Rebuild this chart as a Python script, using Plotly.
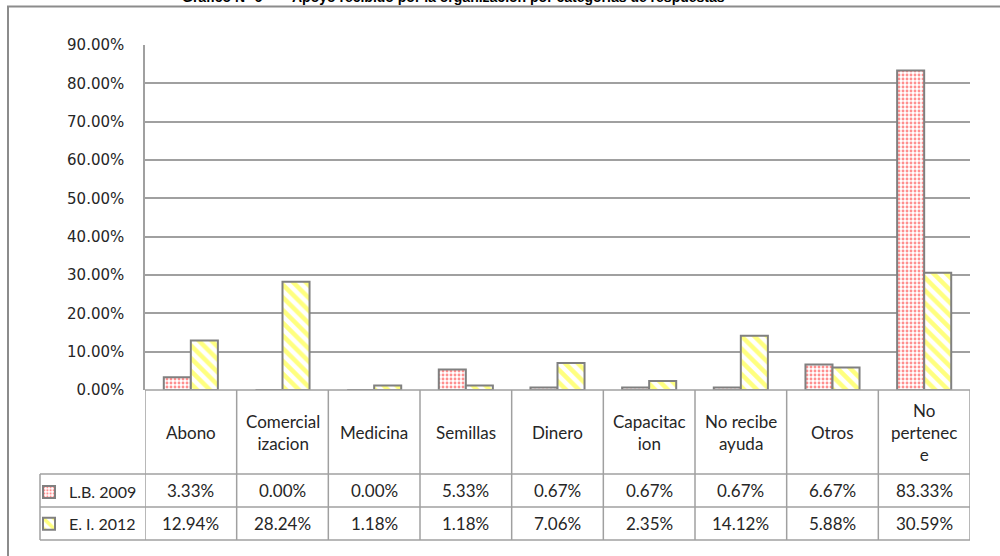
import plotly.graph_objects as go

categories = ["Abono", "Comercial<br>izacion", "Medicina", "Semillas", "Dinero",
              "Capacitac<br>ion", "No recibe<br>ayuda", "Otros", "No<br>pertenec<br>e"]
series_names = ["L.B. 2009", "E. I. 2012"]
lb_2009 = [3.33, 0.00, 0.00, 5.33, 0.67, 0.67, 0.67, 6.67, 83.33]
ei_2012 = [12.94, 28.24, 1.18, 1.18, 7.06, 2.35, 14.12, 5.88, 30.59]
y_ticks = [0, 10, 20, 30, 40, 50, 60, 70, 80, 90]
title_left = "Gráfico N° 6"
title_right = "Apoyo recibido por la organización por categorías de respuestas"

W, H = 1000, 556
L, R, T, B = 145, 30, 45, 166
PW, PH = W - L - R, H - T - B


def py(pix):  # pixel y -> paper y
    return (H - B - pix) / PH


def px(pix):
    return (pix - L) / PW


GRID = "#a0a0a0"
EDGE = "#808080"
TXT = "#262626"
xidx = list(range(len(categories)))

fig = go.Figure()
fig.add_trace(go.Bar(
    x=xidx, y=[v / 100 for v in lb_2009], name=series_names[0], legendgroup="a",
    marker=dict(color="white", line=dict(color=EDGE, width=2),
                pattern=dict(shape=".", fgcolor="#ff2020", bgcolor="white", size=4, solidity=0.4)),
))
fig.add_trace(go.Bar(
    x=xidx, y=[v / 100 for v in ei_2012], name=series_names[1], legendgroup="b",
    marker=dict(color="white", line=dict(color=EDGE, width=2),
                pattern=dict(shape="\\", fgcolor="#ffff00", bgcolor="white", size=9, solidity=0.5)),
))

shapes = []
# outer frame
shapes.append(dict(type="rect", xref="paper", yref="paper", x0=px(8), x1=px(1010), y0=py(600), y1=py(6.5),
                   line=dict(color="#8c8c8c", width=2), layer="below"))
# table horizontal lines
for yy, x0 in [(474, 40), (507, 40), (540, 40)]:
    shapes.append(dict(type="line", xref="paper", yref="paper", x0=px(x0), x1=1, y0=py(yy), y1=py(yy),
                       line=dict(color=GRID, width=1.5)))
shapes.append(dict(type="line", xref="paper", yref="paper", x0=0, x1=1, y0=0, y1=0,
                   line=dict(color=GRID, width=1.5)))
# vertical lines of table
for i in range(len(categories) + 1):
    shapes.append(dict(type="line", xref="x", yref="paper", x0=i - 0.5, x1=i - 0.5, y0=0, y1=py(540),
                       line=dict(color=GRID, width=1.5)))
shapes.append(dict(type="line", xref="paper", yref="paper", x0=px(40), x1=px(40), y0=py(474), y1=py(540),
                   line=dict(color=GRID, width=1.5)))

ann = []
TF = dict(family="Lato", size=17, color=TXT)
for i, c in enumerate(categories):
    ann.append(dict(x=i, xref="x", y=py(432), yref="paper", text=c, showarrow=False,
                    font=TF, xanchor="center", yanchor="middle"))
    ann.append(dict(x=i, xref="x", y=py(490), yref="paper", text=f"{lb_2009[i]:.2f}%", showarrow=False,
                    font=TF, xanchor="center", yanchor="middle"))
    ann.append(dict(x=i, xref="x", y=py(523), yref="paper", text=f"{ei_2012[i]:.2f}%", showarrow=False,
                    font=TF, xanchor="center", yanchor="middle"))
TT = dict(family="Liberation Sans", size=14, color="black")
ann.append(dict(x=px(180), xref="paper", y=py(7), yref="paper", text=f"<b>{title_left}</b>", showarrow=False,
                font=TT, xanchor="left", yanchor="bottom"))
ann.append(dict(x=px(290), xref="paper", y=py(7), yref="paper", text=f"<b>{title_right}</b>", showarrow=False,
                font=TT, xanchor="left", yanchor="bottom"))

fig.update_layout(
    width=W, height=H,
    margin=dict(l=L, r=R, t=T, b=B, pad=0),
    paper_bgcolor="white", plot_bgcolor="white",
    barmode="group", bargap=0.41, bargroupgap=0,
    shapes=shapes, annotations=ann,
    showlegend=True,
    legend=dict(x=px(29), y=py(475), xanchor="left", yanchor="top", tracegroupgap=8,
                font=dict(family="Lato", size=16, color=TXT), bgcolor="rgba(0,0,0,0)",
                itemwidth=30),
)
fig.update_xaxes(range=[-0.5, len(categories) - 0.5], showticklabels=False, showgrid=False,
                 zeroline=False, showline=False, fixedrange=True)
fig.update_yaxes(range=[0, 0.9], tickvals=[v / 100 for v in y_ticks], tickformat=".2%",
                 showgrid=True, gridcolor=GRID, gridwidth=1.5, zeroline=False,
                 showline=True, linecolor=GRID, linewidth=1.5,
                 ticks="outside", ticklen=16, tickcolor="rgba(0,0,0,0)",
                 tickfont=dict(family="DejaVu Sans", size=15, color=TXT), fixedrange=True)

fig.write_html("out.html", config={"displayModeBar": False},
               post_script="document.body.style.margin='0';")
